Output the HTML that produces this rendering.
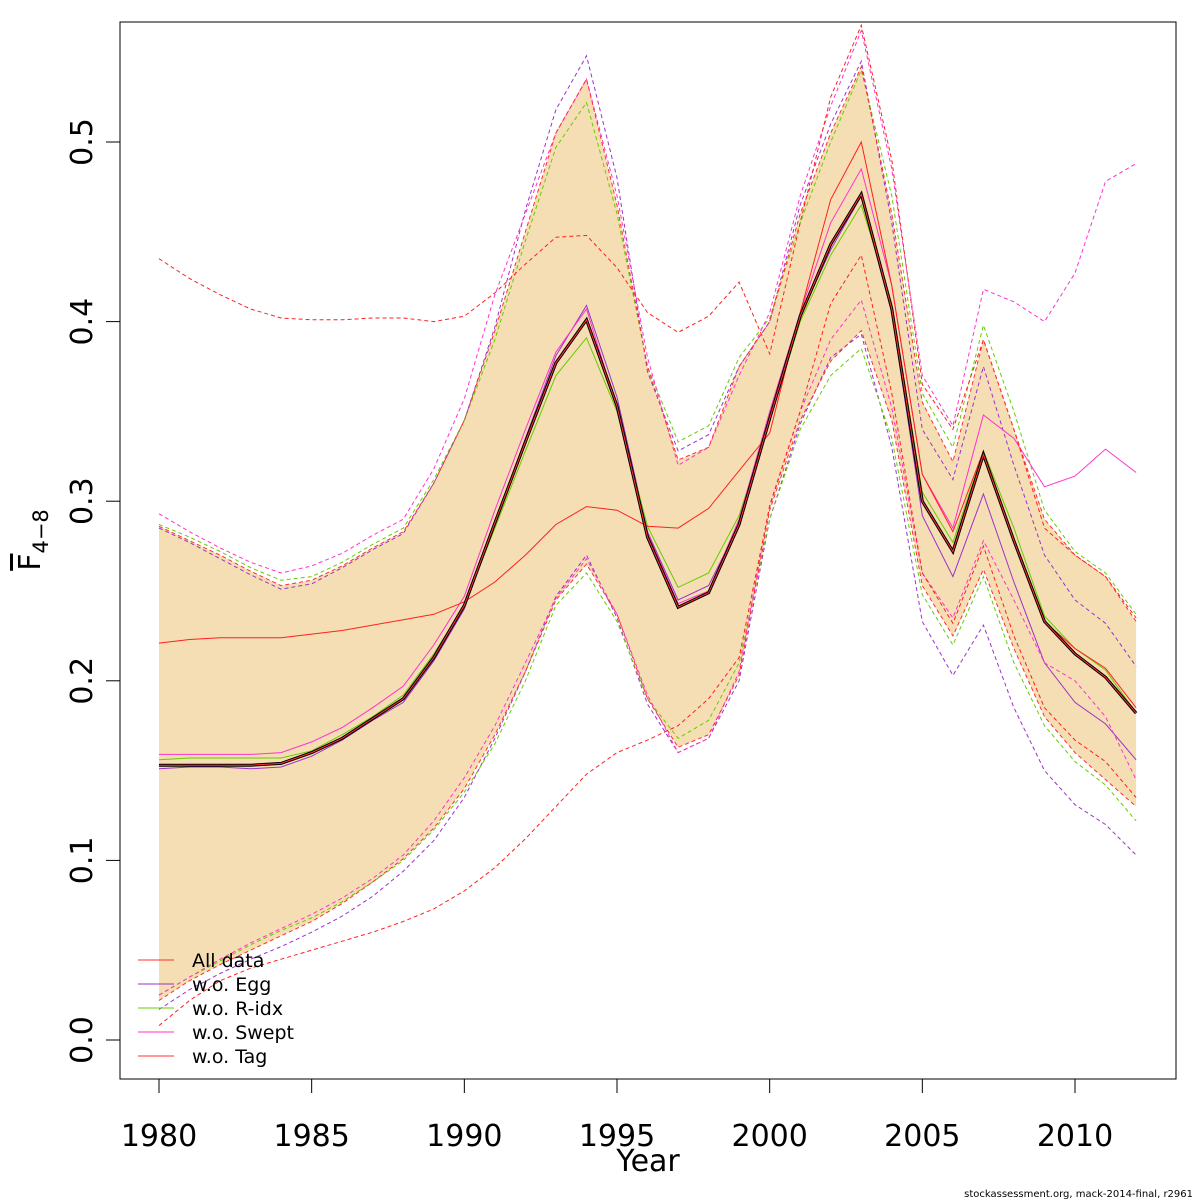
<!DOCTYPE html>
<html><head><meta charset="utf-8"><style>
body{margin:0;background:#fff;}
svg{display:block;font-family:"DejaVu Sans","Liberation Sans",sans-serif;}
</style></head><body>
<svg id="chart" width="1200" height="1200" viewBox="0 0 1200 1200" xmlns="http://www.w3.org/2000/svg"></svg>
<script>
const years=[];for(let y=1980;y<=2012;y++)years.push(y);
const bandUpper=[.286,.278,.270,.261,.253,.256,.264,.274,.283,.310,.345,.395,.450,.505,.535,.465,.375,.323,.330,.375,.400,.460,.505,.542,.460,.355,.322,.390,.340,.290,.270,.258,.233];
const bandLower=[.022,.033,.042,.050,.058,.066,.076,.088,.101,.118,.140,.170,.205,.245,.265,.237,.190,.163,.170,.203,.295,.345,.378,.395,.345,.253,.225,.262,.218,.180,.160,.145,.130];
const allData=[.153,.153,.153,.153,.154,.160,.168,.179,.190,.213,.242,.288,.333,.377,.401,.353,.280,.241,.249,.287,.346,.403,.443,.471,.407,.300,.272,.326,.278,.233,.215,.202,.182];
const tagMid=[.221,.223,.224,.224,.224,.226,.228,.231,.234,.237,.244,.255,.270,.287,.297,.295,.286,.285,.296,.317,.338,.405,.468,.500,.420,.315,.283,.328,.277,.233,.218,.207,.185];
const tagUp=[.435,.424,.415,.407,.402,.401,.401,.402,.402,.400,.403,.416,.432,.447,.448,.430,.405,.394,.403,.422,.382,.455,.525,.565,.490,.365,.340,.390,.340,.285,.270,.258,.235];
const tagLo=[.008,.022,.033,.040,.045,.050,.055,.060,.066,.073,.083,.096,.112,.130,.148,.160,.167,.175,.190,.213,.297,.350,.410,.437,.360,.260,.232,.275,.225,.185,.167,.155,.135];
const eggMid=[.151,.152,.152,.151,.152,.158,.167,.178,.188,.211,.240,.288,.335,.381,.409,.358,.283,.245,.253,.287,.346,.403,.440,.470,.405,.292,.258,.304,.255,.210,.188,.176,.156];
const eggUp=[.285,.277,.268,.259,.251,.254,.263,.273,.282,.310,.345,.397,.462,.518,.548,.480,.372,.328,.337,.375,.400,.465,.510,.545,.455,.340,.312,.375,.320,.270,.245,.232,.208];
const eggLo=[.017,.028,.037,.045,.052,.060,.069,.080,.094,.111,.135,.168,.205,.247,.270,.235,.187,.160,.168,.200,.290,.343,.380,.393,.330,.233,.203,.231,.185,.150,.131,.120,.103];
const ridxMid=[.156,.157,.157,.157,.157,.161,.170,.180,.192,.215,.242,.285,.328,.370,.391,.350,.286,.252,.260,.292,.345,.400,.437,.465,.410,.305,.277,.328,.285,.236,.218,.206,.182];
const ridxUp=[.287,.280,.272,.263,.256,.258,.266,.276,.285,.312,.345,.390,.445,.497,.522,.460,.375,.333,.342,.380,.402,.455,.500,.540,.470,.360,.330,.398,.350,.295,.272,.260,.237];
const ridxLo=[.025,.035,.044,.053,.061,.068,.077,.088,.100,.117,.138,.165,.200,.242,.260,.233,.190,.168,.178,.210,.290,.340,.370,.385,.335,.248,.220,.258,.210,.175,.155,.142,.122];
const sweptMid=[.159,.159,.159,.159,.160,.166,.174,.185,.197,.220,.247,.295,.340,.383,.407,.352,.282,.243,.250,.290,.350,.405,.455,.485,.420,.315,.285,.348,.335,.308,.314,.329,.316];
const sweptUp=[.293,.283,.274,.266,.260,.264,.271,.281,.290,.318,.357,.415,.460,.505,.535,.470,.380,.320,.330,.370,.405,.470,.520,.562,.485,.370,.342,.418,.411,.400,.427,.478,.488];
const sweptLo=[.025,.035,.045,.054,.062,.070,.079,.090,.103,.122,.146,.175,.210,.246,.268,.237,.192,.160,.168,.205,.298,.350,.390,.412,.352,.260,.235,.278,.245,.210,.200,.180,.145];
const xTicks=[1980,1985,1990,1995,2000,2005,2010];
const yTicks=[0,0.1,0.2,0.3,0.4,0.5];
const yTickLabels=["0.0","0.1","0.2","0.3","0.4","0.5"];
const legendLabels=["All data","w.o. Egg","w.o. R-idx","w.o. Swept","w.o. Tag"];
const legendColors=["#ff3030","#9933cc","#66cc00","#ff33cc","#ff3030"];

const svg=document.getElementById('chart');
const NS="http://www.w3.org/2000/svg";
const X=v=>159+(v-1980)*(1075-159)/30;
const Y=v=>1040-v*(1040-142)/0.5;
function mk(tag,attrs,parent){const e=document.createElementNS(NS,tag);for(const k in attrs)e.setAttribute(k,attrs[k]);(parent||svg).appendChild(e);return e;}
const pts=a=>a.map((v,i)=>X(years[i]).toFixed(1)+","+Y(v).toFixed(1)).join(" ");

let band=mk('polygon',{points:pts(bandUpper)+" "+bandLower.map((v,i)=>[X(years[i]),Y(v)]).reverse().map(p=>p[0].toFixed(1)+","+p[1].toFixed(1)).join(" "),fill:"#f5deb3",stroke:"none"});



function line(arr,color,w,dash,name){
  const l=mk('polyline',{points:pts(arr),fill:"none",stroke:color,"stroke-width":w});
  if(dash)l.setAttribute('stroke-dasharray',dash);
  
  
}
const D="4,3";
line(eggUp,"#9933cc",1,D,'egg-upper');line(eggLo,"#9933cc",1,D,'egg-lower');line(eggMid,"#9933cc",1,null,'egg-line');
line(ridxUp,"#66cc00",1,D,'ridx-upper');line(ridxLo,"#66cc00",1,D,'ridx-lower');line(ridxMid,"#66cc00",1,null,'ridx-line');
line(sweptUp,"#ff33cc",1,D,'swept-upper');line(sweptLo,"#ff33cc",1,D,'swept-lower');line(sweptMid,"#ff33cc",1,null,'swept-line');
line(tagUp,"#ff2020",1,D,'tag-upper');line(tagLo,"#ff2020",1,D,'tag-lower');line(tagMid,"#ff2020",1,null,'tag-line');
line(bandUpper,"#ff3030",1,D,'alldata-upper');line(bandLower,"#ff3030",1,D,'alldata-lower');
line(allData,"#000",3,null,'alldata-fit-line');
line(allData,"#ff3030",1,null,'alldata-line');

let box=mk('rect',{x:120,y:22,width:1056,height:1057,fill:"none",stroke:"#000","stroke-width":1});



xTicks.forEach(t=>{
  const x=X(t);
  const tk=mk('line',{x1:x,x2:x,y1:1079,y2:1093,stroke:"#000"});
  
  
  const tx=mk('text',{x:x,y:1146,"font-size":30,"text-anchor":"middle"});
  tx.textContent=t;
  
  
});
yTicks.forEach((t,i)=>{
  const y=Y(t);
  const tk=mk('line',{x1:106,x2:120,y1:y,y2:y,stroke:"#000"});
  
  
  const tx=mk('text',{x:0,y:0,"font-size":30,"text-anchor":"middle",transform:`translate(92,${y}) rotate(-90)`});
  tx.textContent=yTickLabels[i];
  
  
});
let xt=mk('text',{x:648,y:1171,"font-size":30,"text-anchor":"middle"});
xt.textContent="Year";


let yt=mk('text',{x:0,y:0,"font-size":30,"text-anchor":"middle",transform:"translate(40,540) rotate(-90)"});
yt.innerHTML='<tspan text-decoration="overline">F</tspan><tspan font-size="21" dy="8">4−8</tspan>';



legendLabels.forEach((lab,i)=>{
  const y=960+i*24;
  const l=mk('line',{x1:138,x2:174,y1:y,y2:y,stroke:legendColors[i],"stroke-width":1});
  
  
  const t=mk('text',{x:192,y:y+7,"font-size":19});
  t.textContent=lab;
  
  
});
let ft=mk('text',{x:1193,y:1197,"font-size":10,"text-anchor":"end"});
ft.textContent="stockassessment.org, mack-2014-final, r2961";


</script>
</body></html>
